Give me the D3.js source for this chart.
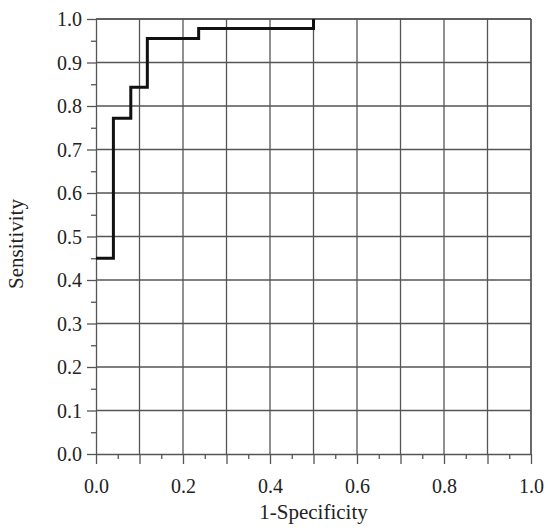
<!DOCTYPE html>
<html>
<head>
<meta charset="utf-8">
<script src="https://cdn.jsdelivr.net/npm/d3@7"></script>
<style>
  body { margin: 0; background: #fff; }
  text { font-family: "Liberation Serif", "DejaVu Serif", serif; fill: #222; }
</style>
</head>
<body>
<div class="roc"></div>
<script>
var w = 550;
var h = 532;
var margin = {top: 19, right: 19, bottom: 78, left: 96};

// ROC curve points (1-specificity, sensitivity)
var fpr = [0.0, 0.04, 0.08, 0.118, 0.236, 0.5];
var tpr = [0.45, 0.772, 0.843, 0.955, 0.978, 1.0];
var tickValues = [0, 0.1, 0.2, 0.3, 0.4, 0.5, 0.6, 0.7, 0.8, 0.9, 1.0];
var xTickLabels = [0, 0.2, 0.4, 0.6, 0.8, 1.0];

var svg = d3.select(".roc")
  .append("svg")
  .attr("width", w)
  .attr("height", h);

var iw = w - margin.left - margin.right;
var ih = h - margin.top - margin.bottom;

var xScale = d3.scaleLinear().domain([0, 1]).range([0, iw]);
var yScale = d3.scaleLinear().domain([0, 1]).range([ih, 0]);

var g = svg.append("g")
  .attr("transform", "translate(" + margin.left + "," + margin.top + ")");

// grid
g.append("g").selectAll("line.v")
  .data(tickValues.slice(1))
  .enter().append("line")
  .attr("x1", d => xScale(d)).attr("x2", d => xScale(d))
  .attr("y1", 0).attr("y2", ih)
  .attr("stroke", "#555").attr("stroke-width", 1.3);

g.append("g").selectAll("line.h")
  .data(tickValues.slice(1))
  .enter().append("line")
  .attr("x1", 0).attr("x2", iw)
  .attr("y1", d => yScale(d)).attr("y2", d => yScale(d))
  .attr("stroke", "#555").attr("stroke-width", 1.3);

// minor ticks
var minor = d3.range(0.05, 1, 0.1);

var xMinor = g.append("g")
  .attr("transform", "translate(0," + ih + ")")
  .call(d3.axisBottom(xScale).tickValues(minor).tickSize(5).tickFormat(""));

var yMinor = g.append("g")
  .call(d3.axisLeft(yScale).tickValues(minor).tickSize(5).tickFormat(""));

// axes
var xAxis = g.append("g")
  .attr("transform", "translate(0," + ih + ")")
  .call(d3.axisBottom(xScale).tickValues(tickValues).tickSize(10).tickSizeOuter(0)
    .tickFormat(d => xTickLabels.some(v => Math.abs(v - d) < 1e-9) ? d3.format(".1f")(d) : ""));

var yAxis = g.append("g")
  .call(d3.axisLeft(yScale).tickValues(tickValues).tickSize(9).tickSizeOuter(0)
    .tickFormat(d3.format(".1f")));

[xAxis, yAxis, xMinor, yMinor].forEach(function(a) {
  a.select(".domain").attr("stroke", "#555").attr("stroke-width", 1.3);
  a.selectAll(".tick line").attr("stroke", "#555").attr("stroke-width", 1.3);
  a.selectAll(".tick text").attr("font-size", 20).attr("fill", "#222");
});
xAxis.selectAll(".tick text").attr("dy", "0").attr("y", 39);
yAxis.selectAll(".tick text").attr("x", -14).attr("dy", "0.34em");
xMinor.select(".domain").remove();
yMinor.select(".domain").remove();

// frame top/right
g.append("line").attr("x1", 0).attr("x2", iw).attr("y1", 0).attr("y2", 0)
  .attr("stroke", "#555").attr("stroke-width", 1.3);
g.append("line").attr("x1", iw).attr("x2", iw).attr("y1", 0).attr("y2", ih)
  .attr("stroke", "#555").attr("stroke-width", 1.3);

// ROC step curve
var pts = fpr.map((d, i) => [d, tpr[i]]);
var line = d3.line()
  .x(d => xScale(d[0]))
  .y(d => yScale(d[1]))
  .curve(d3.curveStepAfter);

g.append("path")
  .datum(pts)
  .attr("d", line)
  .attr("fill", "none")
  .attr("stroke", "#111")
  .attr("stroke-width", 3);

// axis titles
svg.append("text")
  .attr("x", margin.left + iw / 2)
  .attr("y", 519)
  .attr("text-anchor", "middle")
  .attr("font-size", 21)
  .text("1-Specificity");

svg.append("text")
  .attr("transform", "translate(23," + 244 + ") rotate(-90)")
  .attr("text-anchor", "middle")
  .attr("font-size", 21)
  .text("Sensitivity");
</script>
</body>
</html>
